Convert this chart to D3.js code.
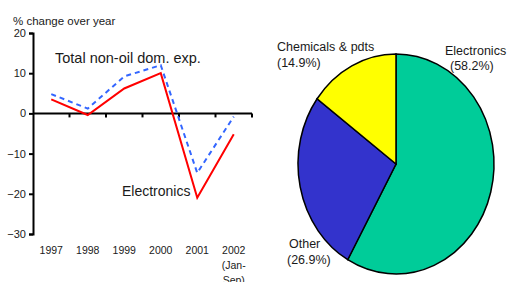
<!DOCTYPE html>
<html>
<head>
<meta charset="utf-8">
<script src="https://cdn.jsdelivr.net/npm/d3@7"></script>
<style>
  body { margin: 0; background: #fff; }
  svg text { font-family: "Liberation Sans", Arial, sans-serif; fill: #1a1a1a; }
</style>
</head>
<body>
<div id="chart"></div>
<script>
// line chart data
var years = ["1997", "1998", "1999", "2000", "2001", "2002"];
var electronics = [3.5, -0.4, 6.2, 10, -21, -5.2];
var totalNonOil = [4.8, 1.2, 9.2, 12, -14.8, -0.8];
var yTicks = [20, 10, 0, -10, -20, -30];

// pie data
var pieLabels = ["Electronics", "Other", "Chemicals & pdts"];
var pieShares = [58.2, 26.9, 14.9];
var pieColors = ["#00cc99", "#3333cc", "#ffff00"];

var W = 508, H = 282;

var svg = d3.select("#chart")
    .append("svg")
    .attr("width", W)
    .attr("height", H);

// scales
var x = d3.scaleBand()
    .domain(years)
    .range([33, 252])
    .padding(0);

var y = d3.scaleLinear()
    .domain([-30, 20])
    .range([234, 33]);

// y axis
svg.append("g")
    .attr("transform", "translate(33,0)")
    .call(d3.axisLeft(y).tickValues(yTicks).tickSize(4).tickPadding(3))
    .call(function(g) {
        g.select(".domain").attr("stroke-width", 2).attr("stroke", "#000");
        g.selectAll(".tick line").attr("stroke-width", 2).attr("stroke", "#000");
        g.selectAll("text").style("font-size", "11px").attr("fill", "#1a1a1a");
    });

// x axis at zero
svg.append("line")
    .attr("x1", 33).attr("x2", 252)
    .attr("y1", y(0)).attr("y2", y(0))
    .attr("stroke", "#000")
    .attr("stroke-width", 2);

svg.selectAll(".xtick")
    .data(years)
    .enter()
    .append("line")
    .attr("class", "xtick")
    .attr("x1", function(d) { return x(d) + x.bandwidth(); })
    .attr("x2", function(d) { return x(d) + x.bandwidth(); })
    .attr("y1", y(0))
    .attr("y2", y(0) + 4)
    .attr("stroke", "#000")
    .attr("stroke-width", 2);

// year labels below the plot
svg.selectAll(".year")
    .data(years)
    .enter()
    .append("text")
    .attr("class", "year")
    .attr("x", function(d) { return x(d) + x.bandwidth() / 2; })
    .attr("y", 254)
    .style("text-anchor", "middle")
    .style("font-size", "10.5px")
    .text(function(d) { return d; });

var last = years[years.length - 1];
svg.append("text")
    .attr("x", x(last) + x.bandwidth() / 2)
    .attr("y", 269)
    .style("text-anchor", "middle")
    .style("font-size", "10.5px")
    .text("(Jan-");
svg.append("text")
    .attr("x", x(last) + x.bandwidth() / 2)
    .attr("y", 284)
    .style("text-anchor", "middle")
    .style("font-size", "10.5px")
    .text("Sep)");

// lines
var line = d3.line()
    .x(function(d, i) { return x(years[i]) + x.bandwidth() / 2; })
    .y(function(d) { return y(d); });

svg.append("path")
    .datum(totalNonOil)
    .attr("d", line)
    .attr("fill", "none")
    .attr("stroke", "#3366ff")
    .attr("stroke-width", 2)
    .attr("stroke-dasharray", "5,4");

svg.append("path")
    .datum(electronics)
    .attr("d", line)
    .attr("fill", "none")
    .attr("stroke", "#ff0000")
    .attr("stroke-width", 2);

// line chart texts
svg.append("text")
    .attr("x", 13).attr("y", 25)
    .style("font-size", "11.5px")
    .text("% change over year");

svg.append("text")
    .attr("x", 55).attr("y", 63)
    .style("font-size", "14.5px")
    .text("Total non-oil dom. exp.");

svg.append("text")
    .attr("x", 122).attr("y", 196)
    .style("font-size", "14px")
    .text("Electronics");

// pie (slightly elliptical)
var cx = 396, cy = 164, ry = 110, rx = 98;

var pie = d3.pie().sort(null).value(function(d) { return d; });
var arc = d3.arc().innerRadius(0).outerRadius(ry);

var pg = svg.append("g")
    .attr("transform", "translate(" + cx + "," + cy + ") scale(" + (rx / ry) + ",1)");

pg.selectAll("path")
    .data(pie(pieShares))
    .enter()
    .append("path")
    .attr("d", arc)
    .attr("fill", function(d, i) { return pieColors[i]; })
    .attr("stroke", "#000")
    .attr("stroke-width", 1.5)
    .attr("vector-effect", "non-scaling-stroke");

// pie labels
var pieLabelPos = [
    {x: 445, y: 55, px: 450, py: 70},
    {x: 289, y: 248, px: 287, py: 264},
    {x: 277, y: 51, px: 277, py: 67}
];

pieLabels.forEach(function(name, i) {
    var p = pieLabelPos[i];
    svg.append("text")
        .attr("x", p.x).attr("y", p.y)
        .style("font-size", "12.5px")
        .text(name);
    svg.append("text")
        .attr("x", p.px).attr("y", p.py)
        .style("font-size", "12.5px")
        .text("(" + pieShares[i].toFixed(1) + "%)");
});
</script>
</body>
</html>
